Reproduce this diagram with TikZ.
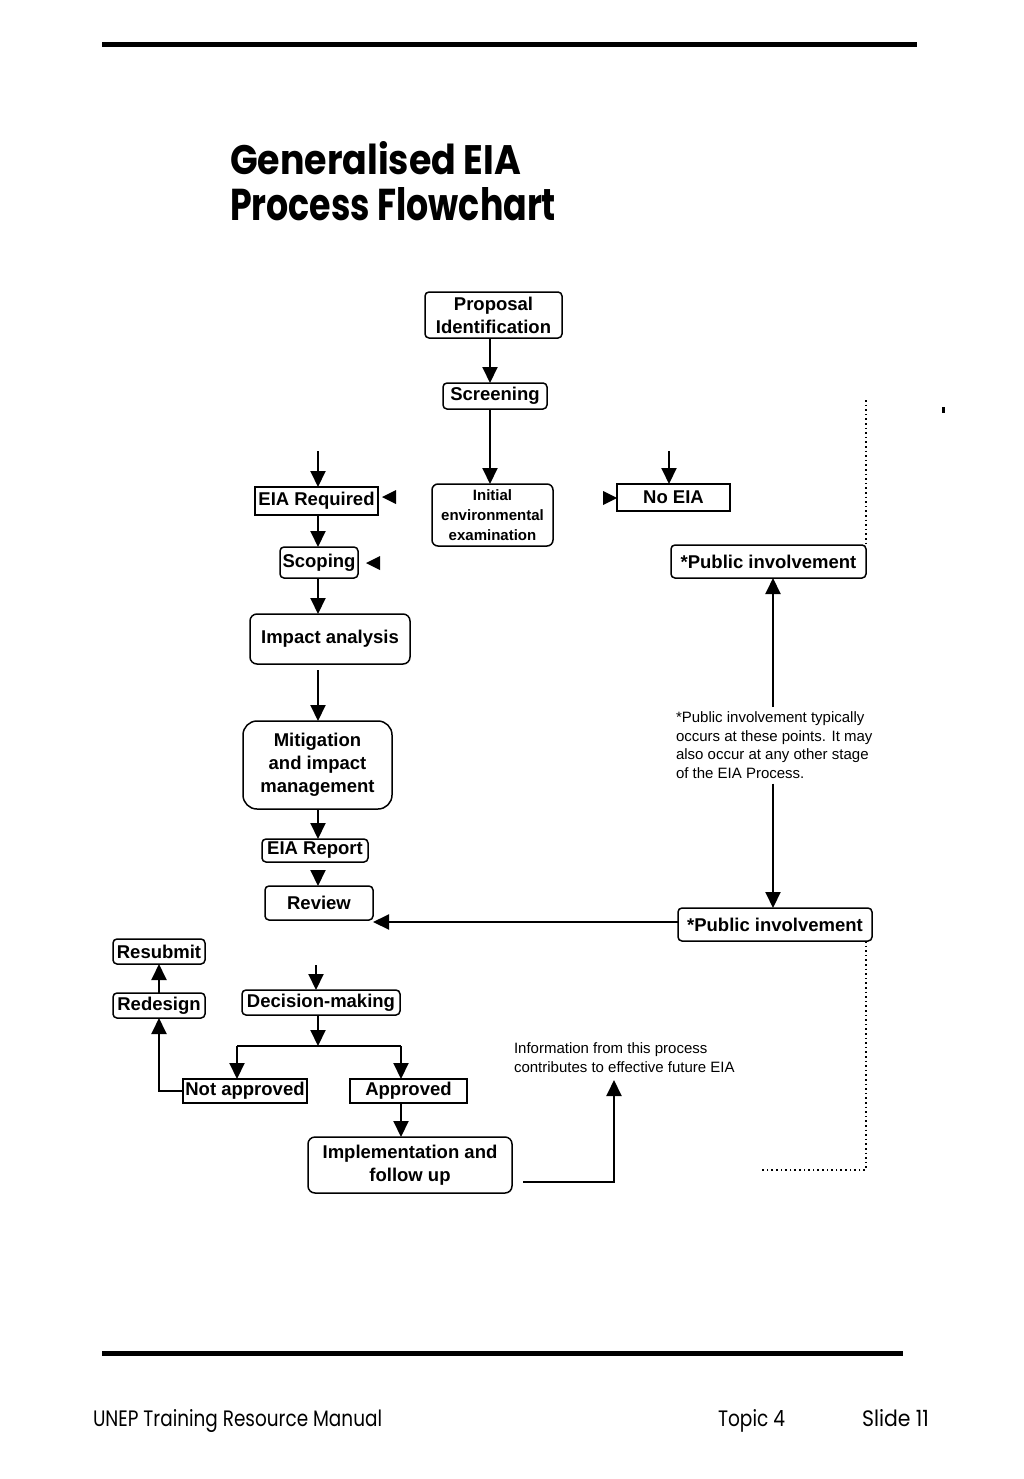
\documentclass[tikz,border=0pt]{standalone}
\usepackage{fontspec}
\setmainfont{Liberation Sans}
\newfontfamily\titlefont{Poppins}
\usetikzlibrary{arrows.meta,calc}
\begin{document}
\begin{tikzpicture}[x=1pt,y=-1pt,
  every node/.style={inner sep=0pt, outer sep=0pt},
  rbox/.style={draw, line width=1.5pt, rounded corners=4pt, align=center, font=\bfseries\fontsize{18.5}{23}\selectfont},
  sbox/.style={draw, line width=2pt, align=center, font=\bfseries\fontsize{18.5}{23}\selectfont},
  arr/.style={line width=2pt, -{Triangle[length=16pt,width=15pt]}},
  marker/.style={fill=black},
  dotline/.style={line width=2pt, dash pattern=on 1.6pt off 3pt},
  notetext/.style={align=left, font=\fontsize{15}{18.5}\selectfont},
]
\fill[white] (0,0) rectangle (1024,1479);
\useasboundingbox (0,0) rectangle (1024,1479);

% rules
\fill (102,42.5) rectangle (917,47.5);
\fill (102,1350.5) rectangle (903,1355.5);

% title
\node[anchor=base west] (t1) at (230,175) {\resizebox{291pt}{33pt}{\titlefont\bfseries Generalised EIA}};
\node[anchor=base west] (t2) at (230,221) {\resizebox{326pt}{33pt}{\titlefont\bfseries Process Flowchart}};

% footer
\node[anchor=base west] (f1) at (93,1426) {\resizebox{289pt}{17pt}{\titlefont UNEP Training Resource Manual}};
\node[anchor=base west] (f2) at (718,1426) {\resizebox{67pt}{17pt}{\titlefont Topic 4}};
\node[anchor=base west] (f3) at (862,1426) {\resizebox{67pt}{17pt}{\titlefont Slide 11}};

% nodes
\node[rbox, minimum width=137pt, minimum height=46pt] (prop) at (493.5,315) {Proposal\\Identification};
\node[rbox, minimum width=104pt, minimum height=26pt] (scr) at (495,396) {Screening};
\node[rbox, minimum width=121pt, minimum height=62pt, rounded corners=6pt, font=\bfseries\fontsize{15}{20}\selectfont] (iee) at (492.5,515) {Initial\\environmental\\examination};
\node[sbox, minimum width=123pt, minimum height=28pt] (eiar) at (316.5,501) {EIA Required};
\node[sbox, minimum width=113pt, minimum height=27pt] (noeia) at (673.5,497.5) {No EIA};
\node[rbox, minimum width=78pt, minimum height=31pt] (scop) at (319,562.5) {Scoping};
\node[rbox, minimum width=160pt, minimum height=50pt, rounded corners=7pt] (imp) at (330,639) {Impact analysis};
\node[rbox, minimum width=149pt, minimum height=88pt, rounded corners=14pt] (mit) at (317.5,765) {Mitigation\\and impact\\management};
\node[rbox, minimum width=106pt, minimum height=23pt] (rep) at (315,850.5) {EIA Report};
\node[rbox, minimum width=108pt, minimum height=34pt] (rev) at (319,903) {Review};
\node[rbox, minimum width=195pt, minimum height=33pt] (pia) at (768.5,561.5) {*Public involvement};
\node[rbox, minimum width=194pt, minimum height=33pt] (pib) at (775,924.5) {*Public involvement};
\node[notetext, anchor=north west, outer ysep=5pt] (note) at (676,707) {*Public involvement typically\\occurs at these points. It may\\also occur at any other stage\\of the EIA Process.};
\node[rbox, minimum width=92pt, minimum height=25pt] (resub) at (159,951.5) {Resubmit};
\node[rbox, minimum width=92pt, minimum height=25pt] (redes) at (159,1005.5) {Redesign};
\node[rbox, minimum width=158pt, minimum height=25pt] (dec) at (321,1002.5) {Decision-making};
\node[sbox, minimum width=124pt, minimum height=24pt] (notap) at (245,1091) {Not approved};
\node[sbox, minimum width=117pt, minimum height=24pt] (appr) at (408.5,1091) {Approved};
\node[rbox, minimum width=204pt, minimum height=56pt, rounded corners=7pt] (impl) at (410,1165) {Implementation and\\follow up};
\node[notetext, anchor=north west] (info) at (514,1043) {Information from this process\\contributes to effective future EIA};

% coordinates
\coordinate (x490) at (490,0);
\coordinate (inA) at (318,451);
\coordinate (inB) at (669,451);
\coordinate (m0) at (318,670);
\coordinate (r0) at (318,873);
\coordinate (yrow) at (0,922);
\coordinate (x773) at (773,0);
\coordinate (d0) at (866,400);
\coordinate (d1) at (866,1170);
\coordinate (d2) at (762,1170);
\coordinate (inD) at (316,965);
\coordinate (bm) at (318,1046);
\coordinate (bl) at (237,1046);
\coordinate (br) at (401,1046);
\coordinate (ie) at (523,1182);
\coordinate (it) at (614,1080);

% free-standing triangle markers
\fill[marker] (382,497) -- (396,490) -- (396,504) -- cycle;
\fill[marker] (617,498) -- (603,491) -- (603,505) -- cycle;
\fill[marker] (366,563) -- (380,556) -- (380,570) -- cycle;

% connectors
\draw[arr] (prop.south -| x490) -- (scr.north -| x490);
\draw[arr] (scr.south -| x490) -- (iee.north -| x490);
\draw[arr] (inA) -- (eiar.north -| inA);
\draw[arr] (inB) -- (noeia.north -| inB);
\draw[arr] (eiar.south -| inA) -- (scop.north -| inA);
\draw[arr] (scop.south -| inA) -- (imp.north -| inA);
\draw[arr] (m0) -- (mit.north -| m0);
\draw[arr] (mit.south -| inA) -- (rep.north -| inA);
\draw[arr] (r0) -- (rev.north -| r0);
\draw[arr] (pib.west |- yrow) -- (rev.east |- yrow);
\draw[arr] (note.north -| x773) -- (pia.south -| x773);
\draw[arr] (note.south -| x773) -- (pib.north -| x773);
\draw[dotline] (d0) -- (pia.north east);
\draw[dotline] (pib.south -| d0) -- (d1) -- (d2);
\fill (941.5,407) rectangle (944.5,413);
\draw[arr] (inD) -- (dec.north -| inD);
\draw[arr] (dec.south -| bm) -- (bm);
\draw[line width=2pt] (bl) -- (br);
\draw[arr] (bl) -- (notap.north -| bl);
\draw[arr] (br) -- (appr.north -| br);
\draw[arr] (notap.west) -| (redes.south);
\draw[arr] (redes.north) -- (resub.south);
\draw[arr] (appr.south -| br) -- (impl.north -| br);
\draw[arr] (ie) -| (it);
\end{tikzpicture}
\end{document}
